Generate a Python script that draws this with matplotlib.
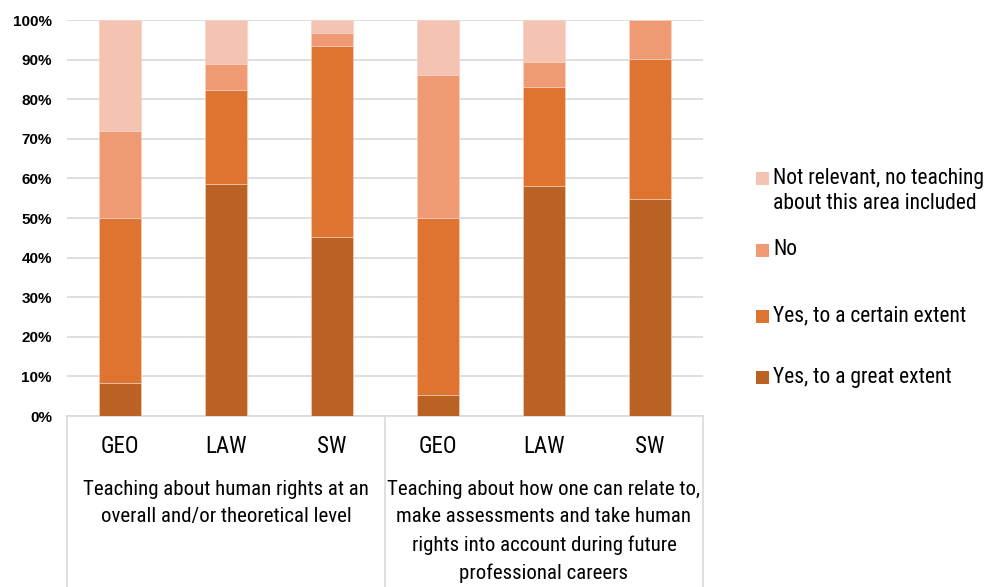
import matplotlib
matplotlib.use("Agg")
import matplotlib.pyplot as plt
from matplotlib import font_manager
from matplotlib.font_manager import FontProperties
from matplotlib.patches import Rectangle
import matplotlib.transforms as mtransforms

# ---------------- data ----------------
programmes = ["GEO", "LAW", "SW", "GEO", "LAW", "SW"]
groups = ["Teaching about human rights at an\noverall and/or theoretical level",
          "Teaching about how one can relate to,\nmake assessments and take human\nrights into account during future\nprofessional careers"]
series_names = ["Yes, to a great extent", "Yes, to a certain extent", "No",
                "Not relevant, no teaching\nabout this area included"]
great = [8.3, 58.7, 45.1, 5.3, 58.2, 54.8]
certain = [41.7, 23.7, 48.4, 44.7, 25.0, 35.4]
no = [22.0, 6.6, 3.1, 36.0, 6.3, 9.8]
not_relevant = [28.0, 11.0, 3.4, 14.0, 10.5, 0.0]
yticks = [0, 10, 20, 30, 40, 50, 60, 70, 80, 90, 100]

colors = ["#BA6124", "#DE7430", "#F09A73", "#F5C3B1"]

# ---- pick a narrow font if one is installed ----
narrow_file = None
prefs = ["LiberationSansNarrow-Regular", "ArialNarrow", "arialn.ttf",
         "RobotoCondensed-Regular", "DejaVuSansCondensed.ttf",
         "OpenSansCondensed", "OpenSans_Condensed-Regular", "NotoSans-Condensed",
         "NotoSansDisplay-Condensed"]
files = [f.fname for f in font_manager.fontManager.ttflist]
for p in prefs:
    hits = [fn for fn in files if p.lower() in fn.lower()
            and "bold" not in fn.lower().split(p.lower())[-1]
            and "italic" not in fn.lower().split(p.lower())[-1]]
    if hits:
        narrow_file = sorted(hits, key=len)[0]
        break
if narrow_file is None:
    cands = [fn for fn in files if ("condensed" in fn.lower() or "narrow" in fn.lower())
             and "bold" not in fn.lower() and "italic" not in fn.lower()
             and "light" not in fn.lower() and "semi" not in fn.lower()
             and "extra" not in fn.lower()]
    if cands:
        narrow_file = sorted(cands, key=len)[0]

if narrow_file is not None:
    def NF(size):
        return FontProperties(fname=narrow_file, size=size)
else:
    def NF(size):
        return FontProperties(family="Liberation Sans", size=size * 0.84)

W, H = 994, 587
fig = plt.figure(figsize=(W / 100, H / 100), dpi=100)
L, R, T, B = 67, 703, 20, 416
ax = fig.add_axes([L / W, 1 - B / H, (R - L) / W, (B - T) / H])

x = list(range(len(programmes)))
bottom = [0.0] * len(x)
for vals, c, name in zip([great, certain, no, not_relevant], colors, series_names):
    ax.bar(x, vals, width=0.4, bottom=bottom, color=c, edgecolor="#F2D5C8",
           linewidth=0.4, label=name, zorder=3)
    bottom = [b + v for b, v in zip(bottom, vals)]

ax.set_xlim(-0.5, len(x) - 0.5)
ax.set_ylim(0, 100)
ax.set_yticks(yticks)
ax.set_yticklabels([f"{t}%" for t in yticks], fontfamily="Liberation Sans",
                   fontweight="bold", fontsize=11, color="#000000")
ax.tick_params(axis="y", length=0, pad=10.8)
ax.grid(axis="y", color="#D9D9D9", linewidth=1.2, zorder=0)
for s in ["top", "right", "left"]:
    ax.spines[s].set_visible(False)
ax.spines["bottom"].set_color("#D9D9D9")
ax.spines["bottom"].set_linewidth(1.2)

ax.set_xticks(x)
ax.set_xticklabels(programmes, color="#000000")
for lab in ax.get_xticklabels():
    lab.set_fontproperties(NF(16.5))
ax.tick_params(axis="x", length=0, pad=13.5)

trans = mtransforms.blended_transform_factory(ax.transData, ax.transAxes)
ax_h = B - T
# separators
for xs in [-0.5, 2.5, 5.5]:
    ax.plot([xs, xs], [0, -(H - B) / ax_h], transform=trans, color="#D9D9D9",
            linewidth=1.2, clip_on=False)

# group labels
for gi, g in enumerate(groups):
    cx = gi * 3 + 1
    ax.text(cx, -(480 - B) / ax_h, g, transform=trans, ha="center", va="top",
            fontproperties=NF(15), linespacing=1.56, color="#000000")

# legend (manual, reversed order)
leg_y = [178, 250, 316, 377]
for name, c, yy in zip(series_names[::-1], colors[::-1], leg_y):
    fig.patches.append(Rectangle((756 / W, 1 - (yy + 6.5) / H), 13 / W, 13 / H,
                                 transform=fig.transFigure, facecolor=c,
                                 edgecolor="none"))
    fig.text(773 / W, 1 - (yy - 10.5) / H, name, ha="left", va="top",
             fontproperties=NF(15.5), linespacing=1.25, color="#000000")

fig.savefig("out.png", dpi=100)
